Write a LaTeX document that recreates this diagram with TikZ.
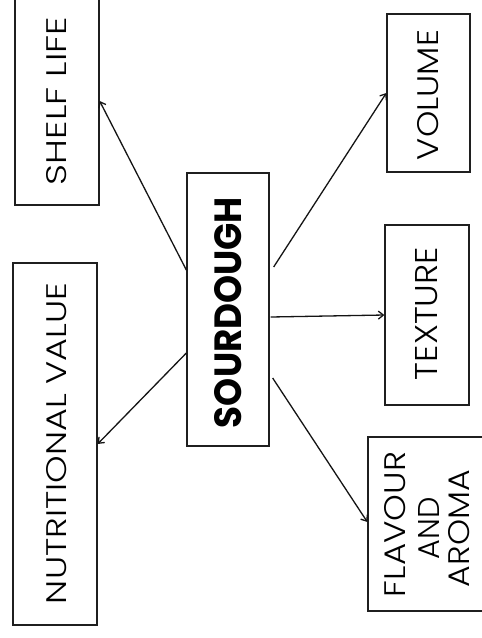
\documentclass[tikz,border=0pt]{standalone}
\usepackage{fontspec}
\setmainfont{Poppins}
\newfontfamily\lightfont{Poppins Light}
\usetikzlibrary{arrows.meta,calc}
\begin{document}
\begin{tikzpicture}[x=1pt,y=-1pt,
  box/.style={draw=black!88, line width=1.3pt, rectangle, inner sep=0pt},
  lbl/.style={rotate=90, inner sep=0pt, font=\lightfont},
  conn/.style={draw=black!92, line width=1.3pt, -{Straight Barb[length=5pt,width=8pt]}}]
\clip (0,0) rectangle (482,638);
\fill[white] (0,0) rectangle (482,638);
% boxes
\node[box, minimum width=84pt, minimum height=208pt] (shelf) at (57,101) {};
\node[box, minimum width=84pt, minimum height=362pt] (nutr) at (55,444) {};
\node[box, minimum width=82pt, minimum height=273pt] (sd) at (228,309.5) {};
\node[box, minimum width=83pt, minimum height=158pt] (vol) at (428.5,93) {};
\node[box, minimum width=84pt, minimum height=180pt] (tex) at (427,315) {};
\node[box, minimum width=118pt, minimum height=174pt] (flav) at (427,524) {};
% labels
\node[lbl] (shelft) at (57,101) {\resizebox{168pt}{20pt}{SHELF LIFE}};
\node[lbl] (nutrt) at (57,443.5) {\resizebox{321pt}{20pt}{NUTRITIONAL VALUE}};
\node[lbl] (volt) at (428.5,95) {\resizebox{130pt}{21pt}{VOLUME}};
\node[lbl] (text) at (427,313.5) {\resizebox{133pt}{22pt}{TEXTURE}};
\node[lbl] (fl1) at (395.5,524.5) {\resizebox{145pt}{21pt}{FLAVOUR}};
\node[lbl] (fl2) at (428.5,528) {\resizebox{62pt}{21pt}{AND}};
\node[lbl] (fl3) at (459,528.5) {\resizebox{117pt}{21pt}{AROMA}};
\node[rotate=90, inner sep=0pt] (sdt) at (228.5,312.5) {\resizebox{231pt}{27pt}{\bfseries SOURDOUGH}};
% connectors
\draw[conn] ($(sd.west)+(0,-39.5)$) -- (shelf.east);
\draw[conn] ($(sd.west)+(0,43.5)$) -- (nutr.east);
\draw[conn] ($(sd.east)+(4,-42.5)$) -- (vol.west);
\draw[conn] ($(sd.east)+(1,7.5)$) -- (tex.west);
\draw[conn] ($(sd.east)+(3,68.5)$) -- ($(flav.west)+(0,-2)$);
\end{tikzpicture}
\end{document}
